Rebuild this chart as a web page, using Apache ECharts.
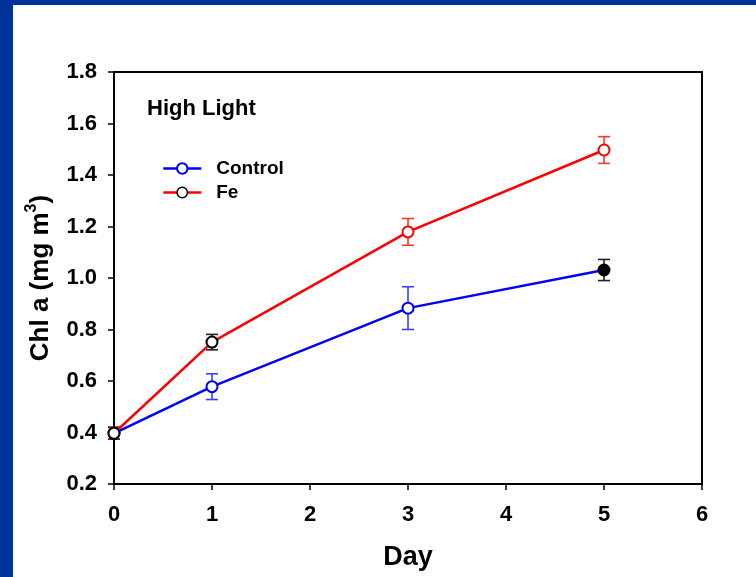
<!DOCTYPE html>
<html><head><meta charset="utf-8">
<script src="https://cdn.jsdelivr.net/npm/echarts@6/dist/echarts.min.js"></script>
<style>html,body{margin:0;padding:0;background:#fff}#c{width:756px;height:577px}</style>
</head><body><div id="c"></div>
<script>
var days = [0, 1, 3, 5];
var controlMean = [0.397, 0.578, 0.883, 1.031];
var controlErr = [0.023, 0.05, 0.083, 0.041];
var feMean = [0.397, 0.751, 1.179, 1.497];
var feErr = [0.023, 0.03, 0.052, 0.052];
var xTicks = [0, 1, 2, 3, 4, 5, 6];
var yTicks = [0.2, 0.4, 0.6, 0.8, 1.0, 1.2, 1.4, 1.6, 1.8];

var BLUE = '#0000ff', RED = '#ff0000';
var controlMarker = [
  {fill:'#fff', stroke:'#000'}, {fill:'#fff', stroke:BLUE}, {fill:'#fff', stroke:BLUE}, {fill:'#000', stroke:'#000'}
];
var feMarker = [
  {fill:'#fff', stroke:'#000'}, {fill:'#fff', stroke:'#000'}, {fill:'#fff', stroke:RED}, {fill:'#fff', stroke:RED}
];
var controlErrColor = ['#7a1010', '#3d3dff', '#3d3dff', '#222'];
var feErrColor = ['#7a1010', '#222', '#ff3333', '#ff3333'];

function pts(mean, styles) {
  return days.map(function (d, i) {
    return {value: [d, mean[i]], itemStyle: {color: styles[i].fill, borderColor: styles[i].stroke, borderWidth: 2}};
  });
}
function errData(mean, err, colors) {
  return days.map(function (d, i) { return [d, mean[i] - err[i], mean[i] + err[i], colors[i]]; });
}
function renderErr(params, api) {
  var x = api.value(0), lo = api.value(1), hi = api.value(2);
  var color = errSource[params.seriesName][params.dataIndex][3];
  var pLo = api.coord([x, lo]), pHi = api.coord([x, hi]);
  var w = 6;
  var st = {stroke: color, lineWidth: 1.6, fill: null};
  return {type: 'group', children: [
    {type: 'line', shape: {x1: pLo[0], y1: pLo[1], x2: pHi[0], y2: pHi[1]}, style: st},
    {type: 'line', shape: {x1: pLo[0] - w, y1: pLo[1], x2: pLo[0] + w, y2: pLo[1]}, style: st},
    {type: 'line', shape: {x1: pHi[0] - w, y1: pHi[1], x2: pHi[0] + w, y2: pHi[1]}, style: st}
  ]};
}
var errSource = {
  'cErr': errData(controlMean, controlErr, controlErrColor),
  'fErr': errData(feMean, feErr, feErrColor)
};

var FONT = 'Liberation Sans, Arial, sans-serif';
var chart = echarts.init(document.getElementById('c'));
chart.setOption({
  animation: false,
  backgroundColor: '#fff',
  graphic: [
    {type: 'rect', left: 0, top: 0, shape: {width: 756, height: 5}, style: {fill: '#003399'}, z: 100},
    {type: 'rect', left: 0, top: 0, shape: {width: 13, height: 577}, style: {fill: '#003399'}, z: 100},
    {type: 'text', left: 147, top: 98, style: {text: 'High Light', font: 'bold 22px ' + FONT, fill: '#000'}}
  ],
  grid: {left: 114, right: 54, top: 72, bottom: 93, show: true, borderColor: '#000', borderWidth: 2, backgroundColor: 'transparent'},
  legend: {
    orient: 'vertical', left: 162, top: 159, padding: 0, itemWidth: 38, itemHeight: 13, itemGap: 5,
    textStyle: {fontFamily: FONT, fontWeight: 'bold', fontSize: 19, color: '#000', padding: [0, 0, 0, 10]},
    data: [
      {name: 'Control', itemStyle: {color: '#fff', borderColor: BLUE, borderWidth: 2}, lineStyle: {width: 2.5}},
      {name: 'Fe', itemStyle: {color: '#fff', borderColor: '#000', borderWidth: 1.5}, lineStyle: {width: 2.5}}
    ]
  },
  xAxis: {
    type: 'value', min: xTicks[0], max: xTicks[xTicks.length - 1], interval: 1,
    name: 'Day', nameLocation: 'middle', nameGap: 60,
    nameTextStyle: {fontFamily: FONT, fontWeight: 'bold', fontSize: 27, color: '#000'},
    axisLine: {lineStyle: {color: '#000', width: 2}},
    axisTick: {show: true, inside: false, length: 6, lineStyle: {color: '#000', width: 1.5}},
    axisLabel: {margin: 20, fontFamily: FONT, fontWeight: 'bold', fontSize: 22, color: '#000'},
    splitLine: {show: false}
  },
  yAxis: {
    type: 'value', min: yTicks[0], max: yTicks[yTicks.length - 1], interval: 0.2,
    name: '{m|Chl a (mg m}{s|3}{m|)}', nameLocation: 'middle', nameGap: 60,
    nameTextStyle: {rich: {
      m: {fontFamily: FONT, fontWeight: 'bold', fontSize: 26, color: '#000', lineHeight: 30, verticalAlign: 'bottom'},
      s: {fontFamily: FONT, fontWeight: 'bold', fontSize: 16, color: '#000', lineHeight: 30, verticalAlign: 'top'}
    }},
    axisLine: {show: true, lineStyle: {color: '#000', width: 2}},
    axisTick: {show: true, inside: false, length: 6, lineStyle: {color: '#000', width: 1.5}},
    axisLabel: {margin: 17, fontFamily: FONT, fontWeight: 'bold', fontSize: 22, color: '#000',
      formatter: function (v) { return v.toFixed(1); }},
    splitLine: {show: false}
  },
  series: [
    {name: 'cErr', type: 'custom', renderItem: renderErr, data: errSource.cErr, z: 1, encode: {x: 0, y: [1, 2]}},
    {name: 'fErr', type: 'custom', renderItem: renderErr, data: errSource.fErr, z: 1, encode: {x: 0, y: [1, 2]}},
    {name: 'Control', type: 'line', data: pts(controlMean, controlMarker), z: 2,
      symbol: 'circle', symbolSize: 11, lineStyle: {color: BLUE, width: 2.5},
      itemStyle: {color: '#fff', borderColor: BLUE, borderWidth: 2}},
    {name: 'Fe', type: 'line', data: pts(feMean, feMarker), z: 3,
      symbol: 'circle', symbolSize: 11, lineStyle: {color: RED, width: 2.5},
      itemStyle: {color: '#fff', borderColor: '#000', borderWidth: 2}}
  ]
});
</script></body></html>
